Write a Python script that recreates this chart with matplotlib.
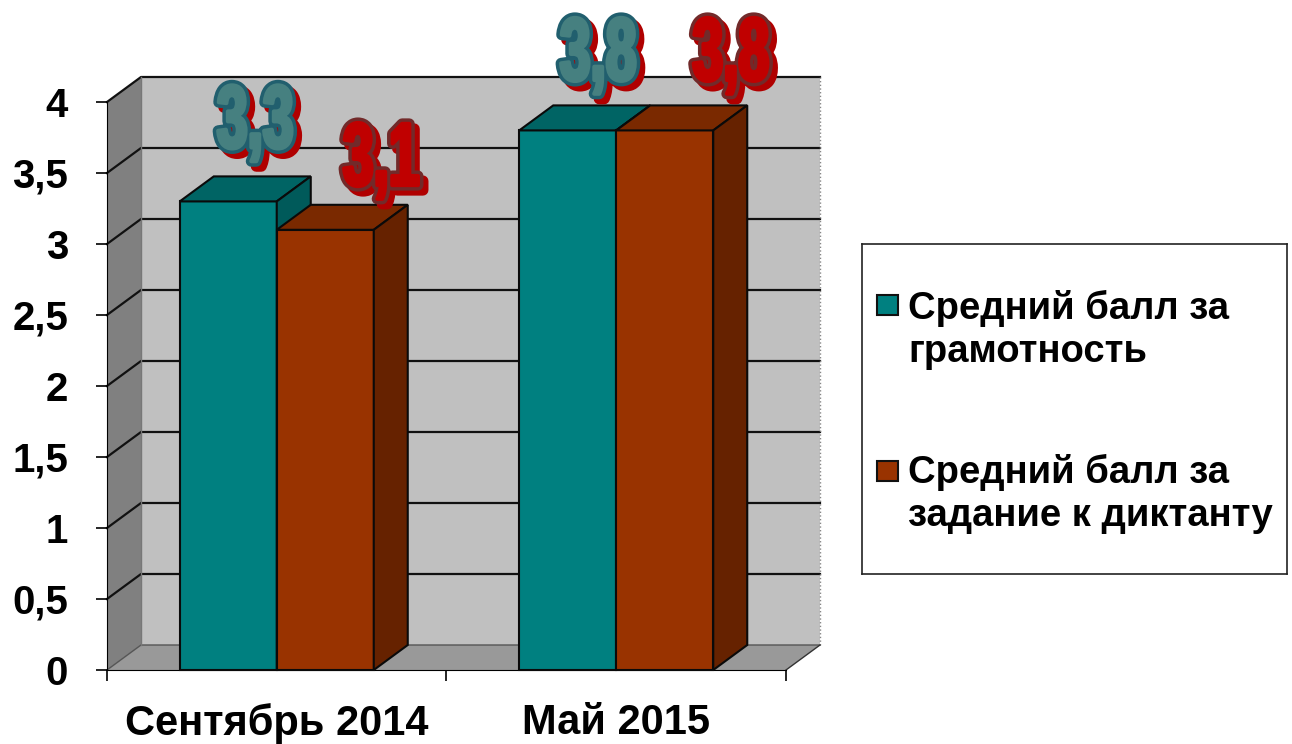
import matplotlib
matplotlib.use("Agg")
import matplotlib.pyplot as plt
import matplotlib.patheffects as pe
from matplotlib.patches import Rectangle
from matplotlib.transforms import Affine2D

plt.rcParams['font.family'] = ['Liberation Sans', 'DejaVu Sans']

# data
categories = ["Сентябрь 2014", "Май 2015"]
series_names = ["Средний балл за\nграмотность", "Средний балл за\nзадание к диктанту"]
gramotnost = [3.3, 3.8]
zadanie = [3.1, 3.8]
label_texts = [["3,3", "3,8"], ["3,1", "3,8"]]
y_ticks = [0, 0.5, 1, 1.5, 2, 2.5, 3, 3.5, 4]
y_tick_labels = ["0", "0,5", "1", "1,5", "2", "2,5", "3", "3,5", "4"]

# offsets of the value labels from the bar tops
label_shift_x = [[0.08, 0.09], [0.165, 0.195]]
label_shift_y = [[0.38, 0.355], [0.315, 0.355]]

W, H = 1292, 744
DX = 34 / 339.5   # depth of the fake 3d, data units
DY = 25 / 142.0
BAR_W = 97 / 339.5

front = [["#008080", "#006464", "#005a5a"], ["#993300", "#7a2900", "#662200"]]


class Squeezed(pe.AbstractPathEffect):
    # draws the text narrower, the installed fonts have nothing like Impact
    def __init__(self, sx, fill, lw, shift=(0, 0)):
        super().__init__()
        self.sx, self.fill, self.lw, self.shift = sx, fill, lw, shift

    def draw_path(self, renderer, gc, tpath, affine, rgbFace=None):
        box = tpath.get_extents(affine)
        cx = box.x0 + box.width / 2
        t = affine + Affine2D().translate(-cx, 0).scale(self.sx, 1).translate(cx + self.shift[0], self.shift[1])
        gc0 = renderer.new_gc()
        gc0.copy_properties(gc)
        gc0.set_linewidth(self.lw)
        gc0.set_foreground(self.fill)
        gc0.set_joinstyle("round")
        renderer.draw_path(gc0, tpath, t, matplotlib.colors.to_rgb(self.fill))
        gc0.restore()


fig = plt.figure(figsize=(W / 100, H / 100), dpi=100)
ax = fig.add_axes([107 / W, 1 - 670 / H, (786 - 107) / W, (670 - 102) / H])
ax.set_xlim(0, 2)
ax.set_ylim(0, 4)
ax.patch.set_visible(False)

# walls and floor
ax.fill([0, DX, DX, 0], [0, DY, 4 + DY, 4], color="#808080", clip_on=False, zorder=0, lw=0)
ax.fill([DX, 2 + DX, 2 + DX, DX], [DY, DY, 4 + DY, 4 + DY], color="#c0c0c0", clip_on=False, zorder=0, lw=0)
ax.fill([0, 2, 2 + DX, DX], [0, 0, DY, DY], color="#999999", clip_on=False, zorder=0, lw=0)
for t in y_ticks[1:]:
    ax.plot([0, DX, 2 + DX], [t, t + DY, t + DY], color="#111111", lw=1.6, clip_on=False, zorder=1)
ax.plot([0, DX, 2 + DX], [0, DY, DY], color="#555555", lw=1, clip_on=False, zorder=1)
ax.plot([DX, DX], [DY, 4 + DY], color="#777777", lw=1, clip_on=False, zorder=1)
ax.plot([2 + DX, 2 + DX], [DY, 4 + DY], color="#888888", lw=1, ls=":", clip_on=False, zorder=1)
ax.plot([2, 2 + DX], [0, DY], color="#333333", lw=1, clip_on=False, zorder=1)

# bars
for i, vals in enumerate([gramotnost, zadanie]):
    for j, v in enumerate(vals):
        x0 = j + 0.5 - BAR_W + i * BAR_W
        x1 = x0 + BAR_W
        ax.bar(x0, v, BAR_W, align="edge", color=front[i][0], edgecolor="#0a0a0a", lw=1.5, zorder=3 + i, clip_on=False)
        ax.fill([x0, x1, x1 + DX, x0 + DX], [v, v, v + DY, v + DY], facecolor=front[i][1],
                edgecolor="#0a0a0a", lw=1.5, zorder=3 + i, clip_on=False)
        ax.fill([x1, x1 + DX, x1 + DX, x1], [0, DY, v + DY, v], facecolor=front[i][2],
                edgecolor="#0a0a0a", lw=1.5, zorder=3 + i, clip_on=False)

# value labels
SX = 0.62
label_fill = ["#468080", "#c00000"]
label_edge = ["#215f6e", "#722a2a"]
for i, vals in enumerate([gramotnost, zadanie]):
    for j, v in enumerate(vals):
        xc = j + 0.5 - BAR_W / 2 + i * BAR_W + label_shift_x[i][j]
        ax.text(xc, v + label_shift_y[i][j], label_texts[i][j], fontsize=64, fontweight="bold",
                ha="center", va="baseline", zorder=10, clip_on=False,
                path_effects=[
                    Squeezed(SX, "#b00000", 8, (5, -5)),
                    Squeezed(SX, label_edge[i], 8),
                    Squeezed(SX, label_fill[i], 3),
                ])

# axes
ax.set_yticks(y_ticks)
ax.set_yticklabels(y_tick_labels, fontsize=29, fontweight="bold")
ax.set_xticks([0, 1, 2])
ax.set_xticklabels([])
ax.set_xticks([0.5, 1.5], minor=True)
ax.set_xticklabels(categories, minor=True, fontsize=30, fontweight="bold")
ax.tick_params(axis="y", length=8, width=1.2, pad=20)
ax.tick_params(axis="x", which="major", length=8, width=1.2)
ax.tick_params(axis="x", which="minor", length=0, pad=24)
for s in ["top", "right"]:
    ax.spines[s].set_visible(False)
ax.spines["left"].set_zorder(2)

# legend box, laid out by hand in pixels of the picture
lax = fig.add_axes([862 / W, 1 - 574 / H, (1287 - 862) / W, (574 - 244) / H])
lax.set_xlim(862, 1287)
lax.set_ylim(574, 244)
lax.set_xticks([])
lax.set_yticks([])
for s in lax.spines.values():
    s.set_linewidth(1.2)
    s.set_color("#222222")
for i, (y_box, y_text) in enumerate(zip([295, 461], [290, 454])):
    lax.add_patch(Rectangle((877, y_box), 21, 20, facecolor=front[i][0], edgecolor="#111111", lw=1.5))
    lax.text(908, y_text, series_names[i], fontsize=27.5, fontweight="bold",
             va="top", ha="left", linespacing=1.26)

fig.savefig("out.png", dpi=100)
